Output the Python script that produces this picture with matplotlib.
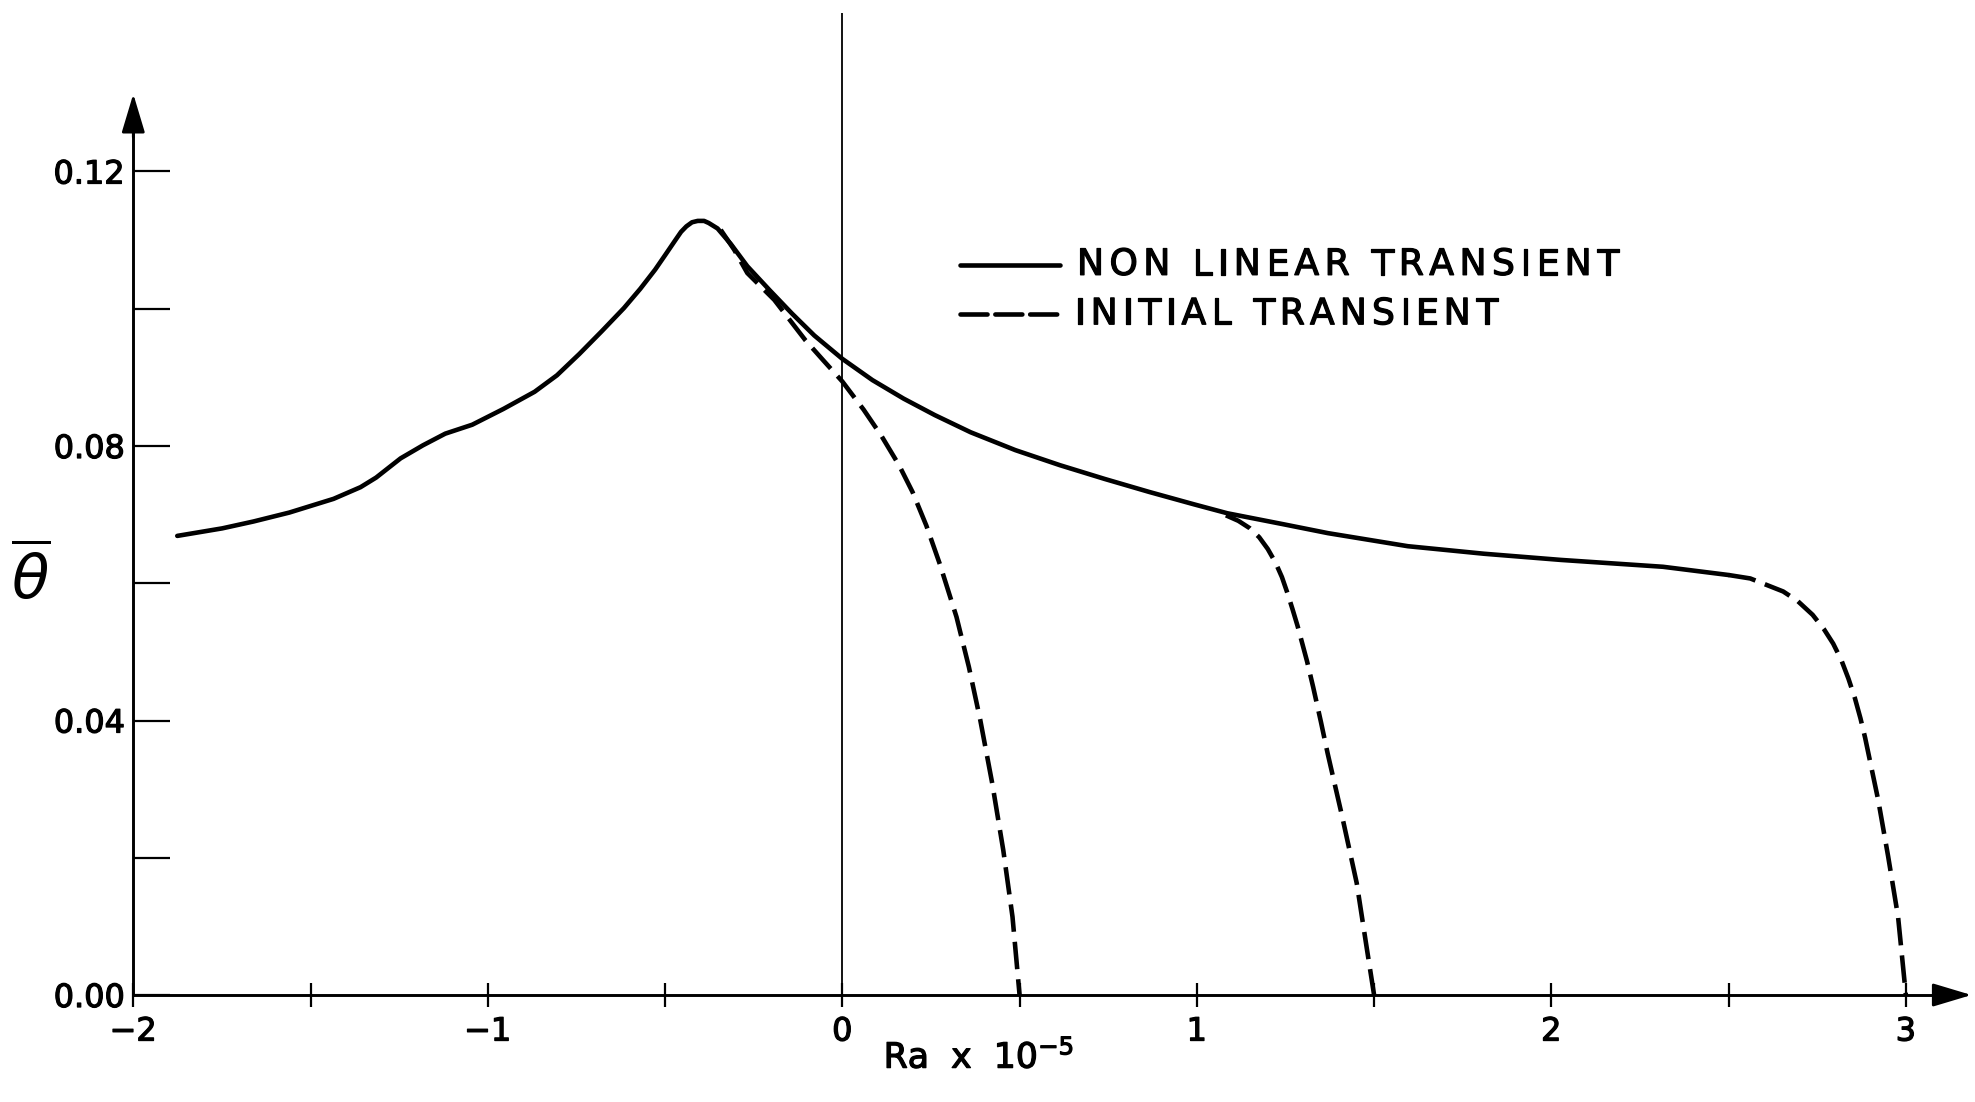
import matplotlib
matplotlib.use("Agg")
import matplotlib.pyplot as plt
import matplotlib.patheffects as pe
from matplotlib.ticker import FixedLocator, FixedFormatter, NullFormatter
from matplotlib.transforms import ScaledTranslation

# Non-linear transient: mean temperature vs Rayleigh number (Ra x 1e-5)
nl_ra = [-1.876, -1.749, -1.661, -1.560, -1.435, -1.359, -1.315, -1.283, -1.246,
         -1.183, -1.120, -1.044, -0.956, -0.868, -0.805, -0.742, -0.679, -0.616,
         -0.570, -0.528, -0.500, -0.471, -0.455, -0.440, -0.424, -0.408, -0.390,
         -0.377, -0.352, -0.314, -0.268, -0.205, -0.142, -0.079, 0.0, 0.085, 0.173,
         0.261, 0.362, 0.488, 0.614, 0.740, 0.866, 0.992, 1.086, 1.244, 1.370,
         1.595, 1.810, 2.027, 2.315, 2.500]
nl_theta = [0.0669, 0.0680, 0.0690, 0.0703, 0.0723, 0.0740, 0.0754, 0.0767, 0.0782,
            0.0801, 0.0818, 0.0831, 0.0854, 0.0879, 0.0903, 0.0934, 0.0967, 0.1001,
            0.1029, 0.1057, 0.1078, 0.1100, 0.1112, 0.1120, 0.1126, 0.1128, 0.1128,
            0.1125, 0.1117, 0.1094, 0.1062, 0.1027, 0.0993, 0.0961, 0.0927, 0.0896, 0.0869,
            0.0845, 0.0820, 0.0794, 0.0772, 0.0752, 0.0733, 0.0715, 0.0702, 0.0686, 0.0673,
            0.0654, 0.0643, 0.0634, 0.0624, 0.0612]

# Initial transient branches
init1_ra = [-0.343, -0.305, -0.268, -0.192, -0.104, -0.054, 0.0, 0.060, 0.110, 0.160,
            0.198, 0.237, 0.275, 0.322, 0.357, 0.389, 0.423, 0.454, 0.480, 0.500]
init1_theta = [0.1115, 0.1086, 0.1052, 0.1013, 0.0954, 0.0925, 0.0894, 0.0853, 0.0815,
               0.0772, 0.0733, 0.0684, 0.0628, 0.0551, 0.0478, 0.0401, 0.0308, 0.0211,
               0.0114, 0.0]

init2_ra = [1.082, 1.117, 1.150, 1.176, 1.200, 1.222, 1.240, 1.256, 1.270, 1.284,
            1.297, 1.311, 1.328, 1.350, 1.369, 1.410, 1.451, 1.480, 1.500]
init2_theta = [0.0699, 0.0691, 0.0680, 0.0667, 0.0650, 0.0630, 0.0609, 0.0585, 0.0562,
               0.0538, 0.0513, 0.0486, 0.0449, 0.0398, 0.0352, 0.0260, 0.0163, 0.0066,
               0.0]

init3_ra = [2.500, 2.561, 2.654, 2.695, 2.737, 2.769, 2.795, 2.818, 2.838, 2.856,
            2.872, 2.885, 2.922, 2.950, 2.978, 3.000]
init3_theta = [0.0612, 0.0607, 0.0588, 0.0574, 0.0554, 0.0533, 0.0512, 0.0488, 0.0461,
               0.0433, 0.0403, 0.0375, 0.0284, 0.0202, 0.0114, 0.0]

# Axis ticks
x_major = [-2, -1, 0, 1, 2, 3]
x_labels = ['\u22122', '\u22121', '0', '1', '2', '3']
x_minor = [-1.5, -0.5, 0.5, 1.5, 2.5]
y_major = [0.00, 0.04, 0.08, 0.12]
y_labels = ['0.00', '0.04', '0.08', '0.12']
y_minor = [0.02, 0.06, 0.10]

legend_labels = ['NON LINEAR TRANSIENT', 'INITIAL TRANSIENT']

INK = 'black'
# slightly heavier lettering, like pen-drawn stencil text
HEAVY = [pe.withStroke(linewidth=0.9, foreground=INK)]

fig = plt.figure(figsize=(19.75, 11.02), dpi=100)
ax = fig.add_axes([0, 0, 1, 1])
ax.set_xlim(-2.3760, 3.1950)
ax.set_ylim(-0.01559, 0.14499)
ax.patch.set_alpha(0)

# Axes drawn as arrows through the origin of the frame
for side in ('top', 'right'):
    ax.spines[side].set_visible(False)
ax.spines['left'].set_position(('data', -2))
ax.spines['bottom'].set_position(('data', 0))
ax.spines['left'].set_bounds(0, 0.127)
ax.spines['bottom'].set_bounds(-2, 3.15)
for side in ('left', 'bottom'):
    ax.spines[side].set_linewidth(2.1)
    ax.spines[side].set_color(INK)

arrow_kw = dict(arrowstyle='-|>,head_length=1.2,head_width=0.36',
                mutation_scale=20, color=INK, lw=2.0, shrinkA=0, shrinkB=0)
ax.annotate('', xy=(-2, 0.1313), xytext=(-2, 0.125), arrowprops=arrow_kw)
ax.annotate('', xy=(3.185, 0), xytext=(3.13, 0), arrowprops=arrow_kw)

ax.xaxis.set_major_locator(FixedLocator(x_major))
ax.xaxis.set_major_formatter(FixedFormatter(x_labels))
ax.xaxis.set_minor_locator(FixedLocator(x_minor))
ax.xaxis.set_minor_formatter(NullFormatter())
ax.yaxis.set_major_locator(FixedLocator(y_major))
ax.yaxis.set_major_formatter(FixedFormatter(y_labels))
ax.yaxis.set_minor_locator(FixedLocator(y_minor))
ax.yaxis.set_minor_formatter(NullFormatter())

ax.tick_params(axis='x', which='both', direction='inout', length=17, width=1.6,
               pad=7, labelsize=23, colors=INK)
ax.tick_params(axis='y', which='both', direction='in', length=26.5, width=1.6,
               pad=6, labelsize=23, colors=INK)
for lab in ax.get_xticklabels() + ax.get_yticklabels():
    lab.set_path_effects(HEAVY)

# Vertical reference line at Ra = 0
ax.vlines(0, 0, 0.1431, color=INK, lw=1.3)

# Curves
LW = 3.3
ax.plot(nl_ra, nl_theta, color=INK, lw=LW, solid_capstyle='round',
        solid_joinstyle='round')
dash = (0, (6.0, 2.2))
for ra, th in ((init1_ra, init1_theta), (init2_ra, init2_theta), (init3_ra, init3_theta)):
    ax.plot(ra, th, color=INK, lw=LW, linestyle=dash, dash_capstyle='butt')


def spaced_text(ax, x, y, s, span, size):
    """Draw letter-spaced text starting at (x, y) and spanning `span` data units."""
    fig = ax.figure
    r = fig.canvas.get_renderer()
    x0 = ax.transData.transform((x, y))[0]
    x1 = ax.transData.transform((x + span, y))[0]
    items = []
    ink = 0.0
    space_w = 0.30 * size * fig.dpi / 72
    for ch in s:
        if ch == ' ':
            items.append((None, space_w))
            ink += space_w
            continue
        t = ax.text(x, y, ch, fontsize=size, ha='left', va='center', color=INK,
                    path_effects=HEAVY)
        w = t.get_window_extent(r).width
        items.append((t, w))
        ink += w
    gap = (x1 - x0 - ink) / max(len(s) - 1, 1)
    off = 0.0
    for t, w in items:
        if t is not None:
            t.set_transform(ax.transData +
                            ScaledTranslation(off / fig.dpi, 0, fig.dpi_scale_trans))
        off += w + gap


# Legend
ax.plot([0.331, 0.614], [0.1064, 0.1064], color=INK, lw=LW, solid_capstyle='round')
ax.plot([0.331, 0.614], [0.0992, 0.0992], color=INK, lw=LW, linestyle=(0, (5.9, 1.7)),
        dash_capstyle='round')
spaced_text(ax, 0.662, 0.1064, legend_labels[0], 1.529, 26)
spaced_text(ax, 0.656, 0.0992, legend_labels[1], 1.193, 26)

# Axis titles
ax.text(0.385, -0.0090, r'Ra  x  10$^{-5}$', fontsize=25, ha='center', va='center',
        color=INK, path_effects=HEAVY)
ax.text(-2.289, 0.0605, r'$\overline{\theta}$', fontsize=44, ha='center', va='center',
        color=INK)

fig.savefig('out.png', dpi=100, facecolor='white')
